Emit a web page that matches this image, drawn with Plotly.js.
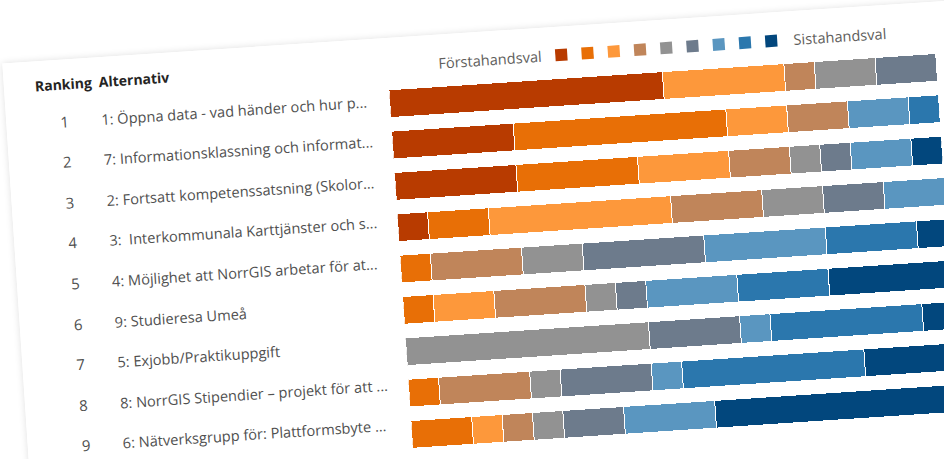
<!DOCTYPE html>
<html>
<head>
<meta charset="utf-8">
<script src="https://cdn.plot.ly/plotly-3.0.1.min.js"></script>
<style>
  html, body { margin: 0; padding: 0; width: 944px; height: 459px; overflow: hidden; background: #ffffff; }
  #card {
    position: absolute;
    left: 5.3px; top: 37.7px;
    width: 1100px; height: 620px;
    background: #ffffff;
    box-shadow: 0 0 7px rgba(0,0,0,0.13);
    transform-origin: 384px 53px;
    transform: rotate(-3.8deg);
  }
  #chart { position: absolute; left: 0; top: 0; }
</style>
</head>
<body>
<div id="card"><div id="chart"></div></div>
<script>
// ---- data ----
const rankNumbers = ["1", "2", "3", "4", "5", "6", "7", "8", "9"];
const alternatives = [
  "1: Öppna data - vad händer och hur p...",
  "7: Informationsklassning och informat...",
  "2: Fortsatt kompetenssatsning (Skolor...",
  "3:\u00a0 Interkommunala Karttjänster och s...",
  "4: Möjlighet att NorrGIS arbetar för at...",
  "9: Studieresa Umeå",
  "5: Exjobb/Praktikuppgift",
  "8: NorrGIS Stipendier – projekt för att ...",
  "6: Nätverksgrupp för: Plattformsbyte ..."
];
const seriesNames = ["Val 1", "Val 2", "Val 3", "Val 4", "Val 5", "Val 6", "Val 7", "Val 8", "Val 9"];
const rank1 = [9, 4, 4, 1, 0, 0, 0, 0, 0];
const rank2 = [0, 7, 4, 2, 1, 1, 0, 1, 2];
const rank3 = [4, 2, 3, 6, 0, 2, 0, 0, 1];
const rank4 = [1, 2, 2, 3, 3, 3, 0, 3, 1];
const rank5 = [2, 0, 1, 2, 2, 1, 8, 1, 1];
const rank6 = [2, 0, 1, 2, 4, 1, 3, 3, 2];
const rank7 = [0, 2, 2, 2, 4, 3, 1, 1, 3];
const rank8 = [0, 1, 0, 0, 3, 3, 5, 6, 0];
const rank9 = [0, 0, 1, 0, 1, 4, 1, 3, 8];
const legendLeftText = "Förstahandsval";
const legendRightText = "Sistahandsval";
const headerRanking = "Ranking";
const headerAlternativ = "Alternativ";

const colors = ["#B83B00", "#E86F06", "#FD983B", "#C0855A", "#929292",
                "#6D7B8C", "#5A96C0", "#2B77AD", "#02477D"];
const allRanks = [rank1, rank2, rank3, rank4, rank5, rank6, rank7, rank8, rank9];

const FONT = "'Segoe UI', 'Open Sans', 'Noto Sans', sans-serif";

const traces = allRanks.map((vals, i) => ({
  type: "bar",
  orientation: "h",
  name: seriesNames[i],
  x: vals,
  y: alternatives,
  marker: { color: colors[i], line: { color: "#ffffff", width: 1 } },
  hoverinfo: "skip",
  showlegend: false
}));

const annotations = [];
alternatives.forEach((alt, i) => {
  const ys = 4 + i * 0.85;
  annotations.push({
    xref: "paper", x: 0, xshift: -325.7, xanchor: "center",
    yref: "y", y: alt, yanchor: "middle", yshift: ys,
    text: rankNumbers[i], showarrow: false,
    font: { family: FONT, size: 15, color: "#505050" }
  });
  annotations.push({
    xref: "paper", x: 0, xshift: -290.6, xanchor: "left",
    yref: "y", y: alt, yanchor: "middle", yshift: ys,
    text: alt, showarrow: false,
    font: { family: FONT, size: 14.6, color: "#505050" }
  });
});
annotations.push({
  xref: "paper", x: 0, xshift: -355.2, xanchor: "left",
  yref: "paper", y: 1, yshift: 20.45, yanchor: "middle",
  text: "<b>" + headerRanking + "</b>", showarrow: false,
  font: { family: FONT, size: 14, color: "#252423" }
});
annotations.push({
  xref: "paper", x: 0, xshift: -291.2, xanchor: "left",
  yref: "paper", y: 1, yshift: 20.45, yanchor: "middle",
  text: "<b>" + headerAlternativ + "</b>", showarrow: false,
  font: { family: FONT, size: 14, color: "#252423" }
});
annotations.push({
  xref: "paper", x: 0, xshift: 49.0, xanchor: "left",
  yref: "paper", y: 1, yshift: 16.55, yanchor: "middle",
  text: legendLeftText, showarrow: false,
  font: { family: FONT, size: 14.6, color: "#605E5C" }
});
annotations.push({
  xref: "paper", x: 0, xshift: 405.1, xanchor: "left",
  yref: "paper", y: 1, yshift: 16.55, yanchor: "middle",
  text: legendRightText, showarrow: false,
  font: { family: FONT, size: 14.6, color: "#605E5C" }
});

// legend swatches (pixel-sized, anchored to the plot's top-left corner)
const shapes = colors.map((c, i) => {
  const cx = 174.3 + i * 26.3;
  return {
    type: "rect", xref: "paper", xsizemode: "pixel", xanchor: 0,
    x0: cx - 6, x1: cx + 6,
    yref: "paper", ysizemode: "pixel", yanchor: 1,
    y0: 16.55 - 6, y1: 16.55 + 6,
    fillcolor: c, line: { width: 0 }
  };
});

const plotW = 547.9, plotH = 375.3;
const mL = 384, mT = 45.15, mR = 20, mB = 60;

const layout = {
  width: mL + plotW + mR,
  height: mT + plotH + mB,
  margin: { l: mL, r: mR, t: mT, b: mB, pad: 0 },
  paper_bgcolor: "#ffffff",
  plot_bgcolor: "#ffffff",
  barmode: "stack",
  bargap: 0.33,
  showlegend: false,
  xaxis: { range: [0, 18], visible: false, fixedrange: true },
  yaxis: { type: "category", categoryarray: alternatives, categoryorder: "array",
           autorange: "reversed", showticklabels: false, showgrid: false,
           zeroline: false, showline: false, ticks: "", fixedrange: true },
  annotations: annotations,
  shapes: shapes,
  font: { family: FONT }
};

Plotly.newPlot("chart", traces, layout, { staticPlot: true, displayModeBar: false });
</script>
</body>
</html>
